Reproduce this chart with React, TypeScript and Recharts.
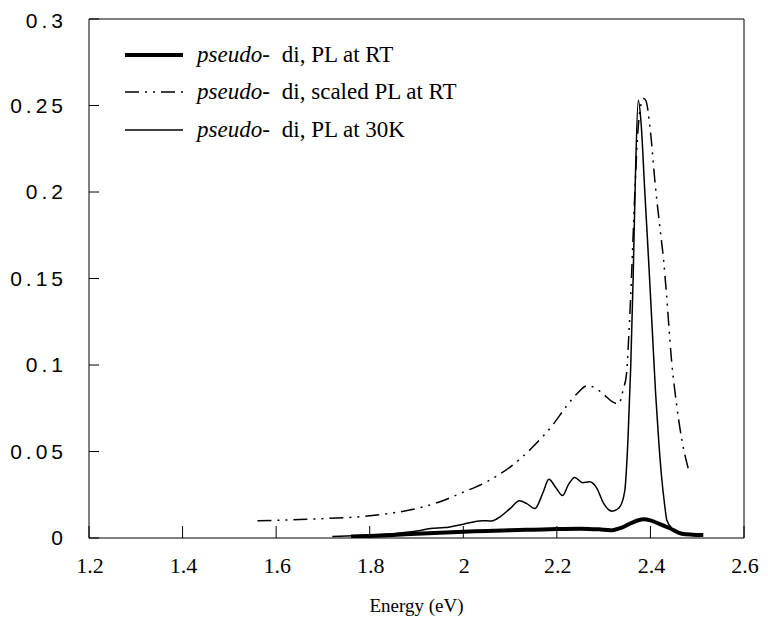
import React from "react";
import { LineChart, Line, XAxis, YAxis, ReferenceLine, Legend } from "recharts";

// ---- data (energy in eV, PL intensity) ----
const rtEnergy = [1.76, 1.8, 1.85, 1.9, 1.95, 2.0, 2.05, 2.1, 2.15, 2.2, 2.25, 2.29, 2.315, 2.34, 2.36, 2.385, 2.4, 2.42, 2.44, 2.467, 2.49, 2.513];
const rtValue = [0.0008, 0.0012, 0.0018, 0.0025, 0.0031, 0.0036, 0.0041, 0.0045, 0.0048, 0.0052, 0.0054, 0.0050, 0.0045, 0.0062, 0.0088, 0.0108, 0.0102, 0.0080, 0.0058, 0.0025, 0.0019, 0.0017];

const scaledEnergy = [1.56, 1.6, 1.65, 1.7, 1.75, 1.8, 1.85, 1.9, 1.95, 2.0, 2.05, 2.1, 2.15, 2.19, 2.22, 2.245, 2.265, 2.28, 2.3, 2.32, 2.332, 2.342, 2.349, 2.353, 2.357, 2.361, 2.366, 2.372, 2.378, 2.385, 2.39, 2.4, 2.41, 2.42, 2.428, 2.434, 2.445, 2.456, 2.467, 2.481];
const scaledValue = [0.0100, 0.0102, 0.0107, 0.0112, 0.0118, 0.0128, 0.0145, 0.0170, 0.0210, 0.0265, 0.0325, 0.0410, 0.0530, 0.0650, 0.0760, 0.0840, 0.0880, 0.0870, 0.0830, 0.0785, 0.0775, 0.0860, 0.0950, 0.1130, 0.1350, 0.1610, 0.1950, 0.2300, 0.2480, 0.2540, 0.2530, 0.2350, 0.2050, 0.1800, 0.1610, 0.1420, 0.1030, 0.0770, 0.0570, 0.0400];

const lowTEnergy = [1.72, 1.78, 1.85, 1.9, 1.93, 1.96, 2.0, 2.04, 2.06, 2.08, 2.1, 2.12, 2.135, 2.153, 2.17, 2.183, 2.198, 2.212, 2.225, 2.238, 2.255, 2.27, 2.285, 2.3, 2.318, 2.333, 2.345, 2.352, 2.358, 2.363, 2.368, 2.374, 2.38, 2.388, 2.396, 2.404, 2.411, 2.418, 2.424, 2.43, 2.435, 2.445];
const lowTValue = [0.0008, 0.0015, 0.0025, 0.0040, 0.0055, 0.0060, 0.0080, 0.0100, 0.0098, 0.0125, 0.0170, 0.0215, 0.0200, 0.0170, 0.0260, 0.0340, 0.0290, 0.0245, 0.0310, 0.0350, 0.0320, 0.0325, 0.0290, 0.0200, 0.0155, 0.0175, 0.0270, 0.0570, 0.1000, 0.1500, 0.2100, 0.2530, 0.2400, 0.2000, 0.1610, 0.1200, 0.0840, 0.0550, 0.0350, 0.0200, 0.0104, 0.0060];

const xTicks = [1.2, 1.4, 1.6, 1.8, 2.0, 2.2, 2.4, 2.6];
const yTicks = [0, 0.05, 0.1, 0.15, 0.2, 0.25, 0.3];

const legendNames = ["di, PL at RT", "di, scaled PL at RT", "di, PL at 30K"];

const toPoints = (xs: number[], ys: number[]) => xs.map((x, i) => ({ x, y: ys[i] }));
const rtData = toPoints(rtEnergy, rtValue);
const scaledData = toPoints(scaledEnergy, scaledValue);
const lowTData = toPoints(lowTEnergy, lowTValue);

const SERIF = "Liberation Serif, Tinos, Times New Roman, Times, DejaVu Serif, serif";
const SANS = "Liberation Sans, Arimo, Arial, Helvetica, sans-serif";

const DASH = "14 6 2 6 2 6";
const seriesStyle = [
  { strokeWidth: 4, dash: undefined as string | undefined },
  { strokeWidth: 1.5, dash: DASH },
  { strokeWidth: 1.5, dash: undefined as string | undefined },
];

const renderLegend = () => (
  <div style={{ display: "flex", flexDirection: "column" }}>
    {legendNames.map((name, i) => (
      <div key={name} style={{ display: "flex", alignItems: "center", height: 37.5 }}>
        <svg width={60} height={10} style={{ display: "block" }}>
          <line x1={1} y1={5} x2={59} y2={5} stroke="#000" strokeWidth={seriesStyle[i].strokeWidth} strokeDasharray={seriesStyle[i].dash} />
        </svg>
        <span style={{ fontFamily: SERIF, fontSize: 23, color: "#000", marginLeft: 13, whiteSpace: "nowrap" }}>
          <i>pseudo-</i>
          <span style={{ marginLeft: 12 }}>{name}</span>
        </span>
      </div>
    ))}
  </div>
);

const fmt = (v: number) => String(Number(v.toFixed(2)));

export default function App() {
  return (
    <LineChart width={752} height={612} margin={{ top: 11, right: 16, left: 0, bottom: 0 }}>
      <XAxis
        dataKey="x"
        type="number"
        domain={[1.2, 2.6]}
        ticks={xTicks}
        tickFormatter={fmt}
        allowDataOverflow
        height={82}
        tickSize={-12}
        tickMargin={31}
        stroke="#000"
        tick={{ fill: "#000", fontFamily: SERIF, fontSize: 22, dx: 1 }}
        label={{ value: "Energy (eV)", position: "insideBottom", offset: 8, fill: "#000", fontFamily: SERIF, fontSize: 19 }}
      />
      <YAxis
        type="number"
        domain={[0, 0.3]}
        ticks={yTicks}
        tickFormatter={fmt}
        allowDataOverflow
        width={81}
        tickSize={-10}
        tickMargin={32}
        stroke="#000"
        tick={{ fill: "#000", fontFamily: SANS, fontSize: 21, letterSpacing: 4 }}
      />
      <ReferenceLine y={0.3} stroke="#000" strokeWidth={1} />
      <ReferenceLine x={2.6} stroke="#000" strokeWidth={1} />
      <Line data={rtData} dataKey="y" type="monotone" stroke="#000" strokeWidth={4} dot={false} isAnimationActive={false} />
      <Line data={scaledData} dataKey="y" type="monotone" stroke="#000" strokeWidth={1.5} strokeDasharray={DASH} dot={false} isAnimationActive={false} />
      <Line data={lowTData} dataKey="y" type="monotone" stroke="#000" strokeWidth={1.5} dot={false} isAnimationActive={false} />
      <Legend
        layout="horizontal"
        verticalAlign="middle"
        align="center"
        wrapperStyle={{ left: 116, top: 28, width: 440 }}
        content={renderLegend}
      />
    </LineChart>
  );
}
